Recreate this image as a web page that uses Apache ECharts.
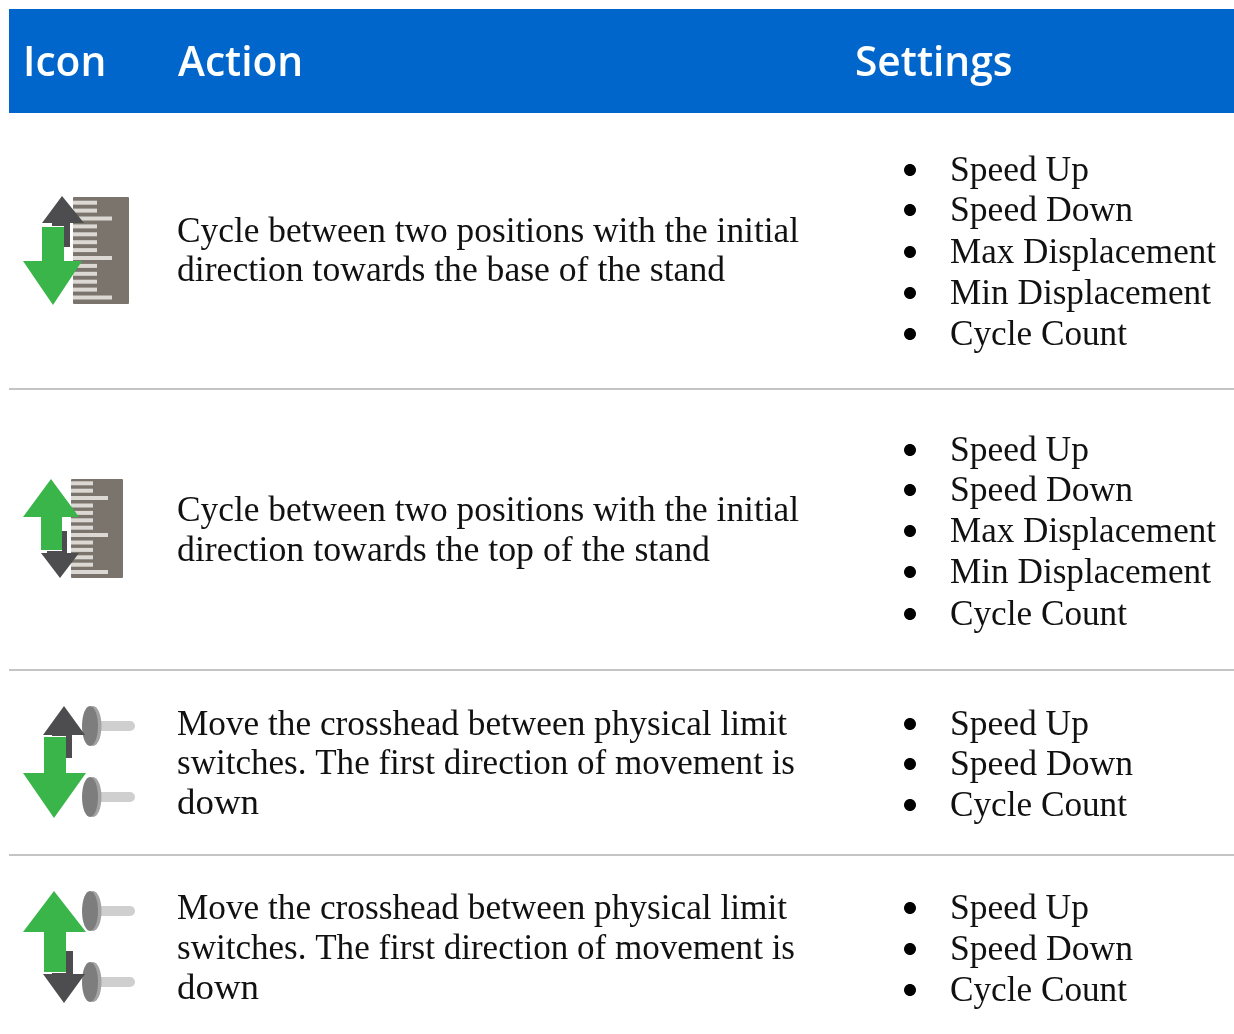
<!DOCTYPE html>
<html>
<head>
<meta charset="utf-8">
<script src="https://cdn.jsdelivr.net/npm/echarts@6/dist/echarts.min.js"></script>
<style>
    html, body { margin: 0; padding: 0; background: #fff; overflow: hidden; }
    #main { width: 1234px; height: 1034px; }
</style>
</head>
<body>
<div id="main"></div>
<script>
// table content
let headers = ['Icon', 'Action', 'Settings'];
let rowIcons = ['rulerDown', 'rulerUp', 'switchDown', 'switchUp'];
let rowActions = [
    ['Cycle between two positions with the initial', 'direction towards the base of the stand'],
    ['Cycle between two positions with the initial', 'direction towards the top of the stand'],
    ['Move the crosshead between physical limit', 'switches. The first direction of movement is', 'down'],
    ['Move the crosshead between physical limit', 'switches. The first direction of movement is', 'down']
];
let rowSettings = [
    ['Speed Up', 'Speed Down', 'Max Displacement', 'Min Displacement', 'Cycle Count'],
    ['Speed Up', 'Speed Down', 'Max Displacement', 'Min Displacement', 'Cycle Count'],
    ['Speed Up', 'Speed Down', 'Cycle Count'],
    ['Speed Up', 'Speed Down', 'Cycle Count']
];

// layout, in pixels of the page
const WIDTH = 1234, HEIGHT = 1034;
const actionBase = [[242, 281], [521, 561], [735, 774, 814], [919, 959, 999]];
const settingBase = [[181, 221, 263, 304, 345], [461, 501, 542, 583, 625], [735, 775, 816], [919, 960, 1001]];
const dividerY = [389, 670, 855];
const headerX = [23, 178, 855];
// where each line of text ends, the fallback serif runs narrower or wider than the original face
const lineEnd = {
    'Cycle between two positions with the initial': 799,
    'direction towards the base of the stand': 725,
    'direction towards the top of the stand': 710,
    'Move the crosshead between physical limit': 787,
    'switches. The first direction of movement is': 795,
    'down': 259,
    'Speed Up': 1089,
    'Speed Down': 1133,
    'Max Displacement': 1216,
    'Min Displacement': 1211,
    'Cycle Count': 1127
};

const GREEN = '#39b54a', DARK = '#4d4d4f', RULER = '#7a746d', TICK = '#dcd9d4';
const SERIF = '"Liberation Serif", serif';
const SANS = '"Open Sans", sans-serif';

let myChart = echarts.init(document.getElementById('main'));
let measure = document.createElement('canvas').getContext('2d');

function arrow(api, color, tipX, tipY, left, right, baseY, shaftL, shaftR, endY) {
    let pts = [[tipX, tipY], [right, baseY], [shaftR, baseY], [shaftR, endY], [shaftL, endY], [shaftL, baseY], [left, baseY]];
    return { type: 'polygon', shape: { points: pts.map(p => api.coord(p)) }, style: { fill: color } };
}

function box(api, x0, y0, x1, y1, color, r) {
    let a = api.coord([x0, y0]), b = api.coord([x1, y1]);
    return { type: 'rect', shape: { x: a[0], y: a[1], width: b[0] - a[0], height: b[1] - a[1], r: r || 0 }, style: { fill: color } };
}

function oval(api, cx, cy, rx, ry, color) {
    let c = api.coord([cx, cy]);
    return { type: 'ellipse', shape: { cx: c[0], cy: c[1], rx: rx, ry: ry }, style: { fill: color } };
}

function ruler(api, x0, x1, y0, y1, shortR, longR, firstTick, step) {
    let out = [box(api, x0, y0, x1, y1, RULER, 1)];
    for (let i = 0; i < 13; i++) {
        let y = firstTick + i * step;
        let long = i === 2 || i === 7 || i === 12;
        out.push(box(api, x0, y - 2, long ? longR : shortR, y + 2, TICK));
    }
    return out;
}

function limitSwitch(api, top) {
    return [
        box(api, 96, top + 15, 135, top + 25, '#cfcfcf', 5),
        oval(api, 93, top + 20, 8.5, 20, '#a3a3a3'),
        oval(api, 90, top + 20, 8, 20, '#7d7d7d')
    ];
}

function drawIcon(api, name) {
    if (name === 'rulerDown') {
        return ruler(api, 73, 129, 197, 304, 97, 112, 202.7, 7.9).concat([
            arrow(api, DARK, 62, 196, 42, 84, 223, 52, 70, 247),
            box(api, 64, 247, 73, 261, '#fff'),
            box(api, 42, 226, 64, 227, '#fff'),
            arrow(api, GREEN, 53, 305, 23, 82, 261, 42, 64, 227)
        ]);
    }
    if (name === 'rulerUp') {
        return ruler(api, 71, 123, 479, 578, 93, 108, 483.3, 7.4).concat([
            arrow(api, DARK, 60, 578, 41, 79, 553, 47, 67, 531),
            box(api, 62, 517, 71, 531, '#fff'),
            box(api, 41, 550, 62, 551, '#fff'),
            arrow(api, GREEN, 51, 479, 23, 79, 517, 41, 62, 550)
        ]);
    }
    if (name === 'switchDown') {
        return limitSwitch(api, 706).concat(limitSwitch(api, 777), [
            arrow(api, DARK, 64, 706, 43, 85, 735, 52, 72, 758),
            box(api, 44, 736, 66, 737, '#fff'),
            arrow(api, GREEN, 54, 818, 23, 86, 773, 44, 66, 737)
        ]);
    }
    return limitSwitch(api, 891).concat(limitSwitch(api, 962), [
        arrow(api, DARK, 64, 1003, 43, 85, 974, 52, 73, 951),
        box(api, 44, 972, 66, 973, '#fff'),
        arrow(api, GREEN, 54, 891, 23, 86, 932, 44, 66, 972)
    ]);
}

function label(api, str, x, baseY, font, size, weight, color, endX) {
    let p = api.coord([x, baseY]);
    let fontStr = weight + ' ' + size + 'px ' + font;
    let el = {
        type: 'text',
        style: {
            text: str, x: p[0], y: p[1] - size * 0.26,
            font: fontStr,
            fill: color, align: 'left', verticalAlign: 'middle'
        }
    };
    if (endX) {
        measure.font = fontStr;
        el.originX = p[0];
        el.scaleX = (endX - x) / measure.measureText(str).width;
    }
    return el;
}

function renderHeader(params, api) {
    let children = [box(api, 9, 9, WIDTH, 113, '#0066cc')];
    headers.forEach((h, i) => {
        children.push(label(api, h, headerX[i], 75, SANS, 40.7, 600, '#fff'));
    });
    dividerY.forEach(y => {
        children.push(box(api, 9, y - 1, WIDTH, y + 1, '#c4c4c4'));
    });
    return { type: 'group', children: children };
}

function renderRow(params, api) {
    let r = api.value(0);
    let children = drawIcon(api, rowIcons[r]);
    rowActions[r].forEach((line, i) => {
        children.push(label(api, line, 177, actionBase[r][i], SERIF, 35.4, 400, '#111', lineEnd[line]));
    });
    rowSettings[r].forEach((line, i) => {
        let y = settingBase[r][i];
        children.push(oval(api, 910, y - 11, 6, 6, '#000'));
        children.push(label(api, line, 950, y, SERIF, 35.2, 400, '#111', lineEnd[line]));
    });
    return { type: 'group', children: children };
}

let option = {
    animation: false,
    grid: { left: 0, right: 0, top: 0, bottom: 0 },
    xAxis: { type: 'value', min: 0, max: WIDTH, show: false },
    yAxis: { type: 'value', min: 0, max: HEIGHT, inverse: true, show: false },
    series: [
        { type: 'custom', name: 'header', coordinateSystem: 'cartesian2d', silent: true, renderItem: renderHeader, data: [[0]], encode: { x: 0 } },
        { type: 'custom', name: 'rows', coordinateSystem: 'cartesian2d', silent: true, renderItem: renderRow, data: rowIcons.map((n, i) => [i]), encode: { x: 0 } }
    ]
};

myChart.setOption(option);
</script>
</body>
</html>
